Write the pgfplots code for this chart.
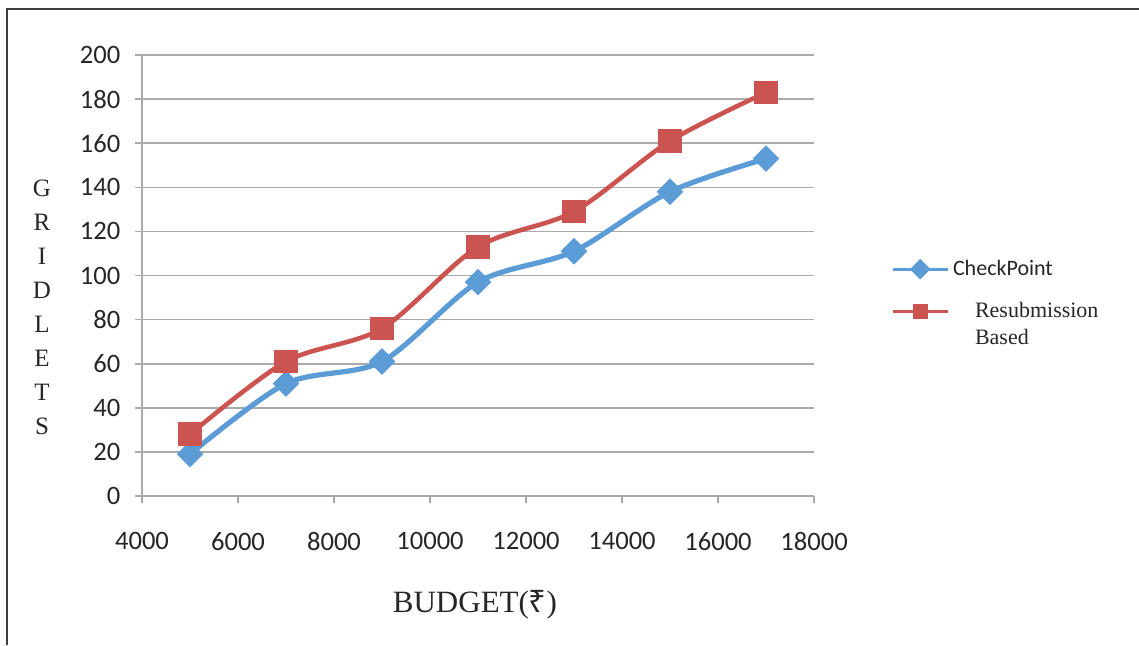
\documentclass[border=0pt]{standalone}
\usepackage{fontspec}
\usepackage{pgfplots}
\pgfplotsset{compat=1.18}
\setmainfont{Liberation Serif}
\newfontfamily\calibri{Carlito}
\newfontfamily\rupeefont{Noto Sans}
\definecolor{cpblue}{RGB}{92,156,214}
\definecolor{rbred}{RGB}{204,84,80}
\definecolor{gridgray}{RGB}{170,170,170}
\definecolor{framegray}{RGB}{60,60,60}

\begin{document}
\begin{tikzpicture}[x=0.5pt,y=0.5pt]
\useasboundingbox (0,0) rectangle (1139,645);
% outer chart frame
\draw[framegray, line width=1.2pt] (7,0) -- (7,636) -- (1139,636);
\begin{axis}[
  at={(71pt,74.5pt)}, anchor=south west,
  scale only axis, width=336pt, height=220.5pt,
  xmin=4000, xmax=18000, ymin=0, ymax=200,
  xtick={4000,6000,...,18000}, ytick={0,20,...,200},
  axis x line*=bottom, axis y line*=left,
  axis line style={gridgray, line width=0.8pt, -},
  ymajorgrids, major grid style={gridgray, line width=0.8pt},
  tick align=outside, major tick length=3.5pt,
  tick style={gridgray, line width=0.8pt},
  scaled ticks=false,
  /pgf/number format/assume math mode=true,
  /pgf/number format/1000 sep={},
  tick label style={font=\calibri\fontsize{13.3}{13.3}\selectfont, text=black!85},
  xticklabel style={yshift=-11pt},
  yticklabel style={xshift=-3.8pt},
  xlabel={BUDGET({\rupeefont\bfseries ₹})},
  xlabel style={at={(axis description cs:0.4955,-0.247)}, anchor=center,
    font=\fontsize{15.5}{16}\selectfont, text=black!85},
  ylabel={G\\R\\I\\D\\L\\E\\T\\S},
  ylabel style={at={(axis description cs:-0.1488,0.4286)}, anchor=center, rotate=-90,
    align=center, font=\fontsize{12.5}{17}\selectfont, text=black!85},
  legend style={at={(axis description cs:1.1146,0.545)}, anchor=north west,
    draw=none, fill=none, inner sep=0pt, row sep=8pt,
    cells={anchor=west}, nodes={inner sep=2pt, text=black!85}},
  legend image code/.code={
    \draw[mark repeat=2, mark phase=2, #1, line width=1.3pt, mark size=3pt]
      plot coordinates {(0pt,0pt) (13.75pt,0pt) (27.5pt,0pt)};},
]
\addplot[cpblue, line width=2.6pt, smooth, tension=0.5,
  mark=square*, mark size=3.4pt, mark options={rotate=45, solid}]
  coordinates {(5000,19) (7000,51) (9000,61) (11000,97) (13000,111) (15000,138) (17000,153)};
\addlegendentry{\calibri\fontsize{11}{12}\selectfont CheckPoint}
\addplot[rbred, line width=2.3pt, smooth, tension=0.5,
  mark=square*, mark size=4.8pt, mark options={solid}]
  coordinates {(5000,28) (7000,61) (9000,76) (11000,113) (13000,129) (15000,161) (17000,183)};
\addlegendentry{\fontsize{11}{13.5}\selectfont\hspace*{11pt}\raisebox{0pt}[0.68em][0.2em]{\begin{tabular}[t]{@{}l@{}}Resubmission\\Based\end{tabular}}}
\end{axis}
\end{tikzpicture}
\end{document}
